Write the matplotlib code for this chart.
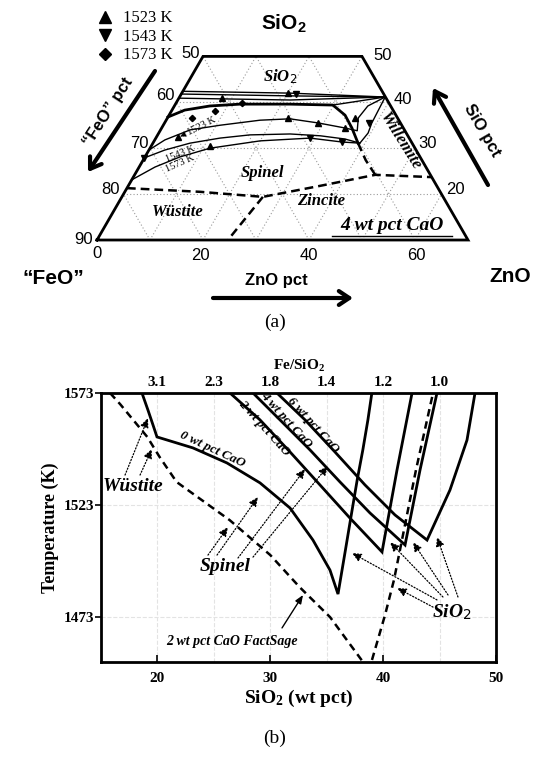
import numpy as np
import matplotlib.pyplot as plt
from matplotlib.lines import Line2D

W, H = 550, 759
SERIF = 'Liberation Serif'
SANS = 'Liberation Sans'

plt.rcParams['mathtext.fontset'] = 'custom'
plt.rcParams['mathtext.bf'] = 'Liberation Serif:bold'
plt.rcParams['mathtext.it'] = 'Liberation Serif:italic:bold'
plt.rcParams['mathtext.sf'] = 'Liberation Sans:bold'

# ---------------- (a) ternary section, every point is (ZnO wt pct, SiO2 wt pct) ----------------
frame_zno = [0, 70, 30, 0, 0]
frame_sio2 = [10, 10, 50, 50, 10]

# SiO2 saturation lines, they meet on the right edge
sat1_zno = [0, 20.4, 38.8]
sat1_sio2 = [42.4, 42.0, 41.15]
sat2_zno = [0, 20.7, 38.8]
sat2_sio2 = [41.8, 41.4, 41.15]
sat3_zno = [0, 21.2, 38.8]
sat3_sio2 = [40.9, 40.5, 41.15]

# thick liquidus boundary (SiO2 / spinel, then spinel / willemite)
thick_zno = [0, 2.4, 6.7, 12.2, 21.6, 29.8, 33.2, 35.9, 38.7]
thick_sio2 = [36.8, 38.3, 39.2, 39.6, 39.6, 39.4, 37.2, 34.4, 31.1]
link_zno = [29.8, 38.8]
link_sio2 = [39.4, 41.15]

# isotherms in the spinel field
iso1523_zno = [0, 1.9, 5.6, 10.7, 17.7, 23.2, 29.0, 34.6, 37.2, 36.0, 36.5, 38.8]
iso1523_sio2 = [29.6, 31.8, 34.0, 35.0, 36.1, 36.4, 35.5, 34.4, 33.8, 36.6, 39.2, 41.15]
iso1543_zno = [0, 3.0, 7.0, 12.1, 17.4, 24.9, 30.8, 35.8, 39.05, 39.5, 39.1, 38.8]
iso1543_sio2 = [27.9, 29.6, 31.1, 32.2, 32.9, 33.1, 32.7, 32.0, 31.1, 33.3, 35.5, 41.15]
iso1573_zno = [0, 3.0, 6.6, 11.3, 20.0, 29.1, 35.55, 39.05]
iso1573_sio2 = [23.1, 25.9, 28.1, 30.0, 31.6, 32.2, 31.35, 31.1]

# primary phase field boundaries (dashed)
wus_spl_zno = [0, 14.2, 26.6, 36.2, 45.4, 56.3]
wus_spl_sio2 = [21.3, 20.5, 19.4, 21.8, 24.2, 23.7]
wus_znc_zno = [26.6, 24.7]
wus_znc_sio2 = [19.4, 10.0]
spl_wil_zno = [45.4, 42.0, 38.7]
spl_wil_sio2 = [24.2, 27.4, 31.1]

# experimental points
exp1523_zno = [20.0, 8.1, 22.75, 28.95, 34.6, 35.4, 4.1, 11.1]
exp1523_sio2 = [42.0, 40.9, 36.6, 35.5, 34.4, 36.6, 32.4, 30.5]
exp1543_zno = [21.6, 29.1, 35.6, 38.6, 0]
exp1543_sio2 = [41.8, 32.2, 31.35, 35.5, 27.9]
exp1573_zno = [12.4, 8.2, 4.6]
exp1573_sio2 = [39.85, 38.1, 36.6]

# ---------------- (b) liquidus temperature vs SiO2 ----------------
caO0_x = [18.63, 19.16, 19.61, 19.96, 23.15, 26.16, 29.09, 31.75, 33.78, 35.29, 36.0,
          36.66, 37.1, 37.7, 38.2, 38.65, 39.0]
caO0_t = [1573, 1565.4, 1558.7, 1553.4, 1548.5, 1541.8, 1532.9, 1521.7, 1507.4, 1494.0, 1483.3,
          1503, 1516.3, 1534.2, 1547.6, 1561, 1573]
caO2_x = [26.43, 29.09, 31.75, 34.4, 37.06, 39.9, 41.23, 42.56]
caO2_t = [1573, 1561, 1546.7, 1532, 1517.2, 1502.1, 1538.7, 1573]
caO4_x = [28.47, 30.86, 33.52, 36.18, 38.83, 41.94, 43.27, 44.77]
caO4_t = [1573, 1561, 1547.6, 1533.3, 1519.5, 1505.2, 1538.7, 1573]
caO6_x = [30.59, 33.08, 35.73, 38.39, 41.05, 43.89, 45.92, 47.43, 48.14]
caO6_t = [1573, 1561, 1546.7, 1532, 1518.6, 1507.4, 1529.7, 1552, 1573]
fs_wus_x = [15.8, 16.7, 19.1, 20.2, 21.7, 26.4, 30.0, 32.6, 35.3, 38.1]
fs_wus_t = [1573, 1568, 1553.4, 1544.4, 1533.3, 1516.3, 1500.7, 1486.4, 1473, 1453.8]
fs_sio2_x = [39.01, 40.17, 40.96, 41.58, 42.91, 44.42]
fs_sio2_t = [1453.9, 1474, 1489.6, 1505.2, 1538.7, 1573]

x_ticks = [20, 30, 40, 50]
t_ticks = [1473, 1523, 1573]
fe_pos = [20, 25, 30, 35, 40, 45]
fe_labels = ['3.1', '2.3', '1.8', '1.4', '1.2', '1.0']


def tern(zno, sio2):
    zno = np.asarray(zno, float)
    sio2 = np.asarray(sio2, float)
    return zno + sio2 / 2, sio2 * np.sqrt(3) / 2


def fp(x, y):
    # pixel position in the 550x759 picture -> figure fraction
    return x / W, 1 - y / H


fig = plt.figure(figsize=(W / 100, H / 100), dpi=100)

# ================= panel (a) =================
ax = fig.add_axes([0, 1 - 290 / H, 1, 290 / H])
ax.set_xlim(-13.3, 90.47)
ax.set_ylim(-0.77, 53.94)
ax.axis('off')

# dotted grid, 10 pct steps
grid_kw = dict(color='#9a9a9a', lw=0.8, ls=(0, (1, 2)), zorder=1)
for s in [20, 30, 40]:
    ax.plot(*tern([0, 80 - s], [s, s]), **grid_kw)
for z in [10, 20, 30, 40, 50, 60]:
    ax.plot(*tern([z, z], [10, min(50, 80 - z)]), **grid_kw)
for f in [30, 40, 50, 60, 70, 80]:
    s_top = min(50, 100 - f)
    ax.plot(*tern([90 - f, 100 - f - s_top], [10, s_top]), **grid_kw)

ax.plot(*tern(frame_zno, frame_sio2), color='k', lw=2, zorder=5, solid_joinstyle='miter')

thin = dict(color='k', lw=1.0, zorder=3)
for zz, ss in [(sat1_zno, sat1_sio2), (sat2_zno, sat2_sio2), (sat3_zno, sat3_sio2),
               (link_zno, link_sio2), (iso1523_zno, iso1523_sio2),
               (iso1543_zno, iso1543_sio2), (iso1573_zno, iso1573_sio2)]:
    ax.plot(*tern(zz, ss), **thin)
ax.plot(*tern(thick_zno, thick_sio2), color='k', lw=2, zorder=3)

dash = dict(color='k', lw=1.8, ls=(0, (3.5, 2)), zorder=3)
for zz, ss in [(wus_spl_zno, wus_spl_sio2), (wus_znc_zno, wus_znc_sio2), (spl_wil_zno, spl_wil_sio2)]:
    ax.plot(*tern(zz, ss), **dash)

ax.plot(*tern(exp1523_zno, exp1523_sio2), ls='none', marker='^', ms=4, color='k', zorder=4)
ax.plot(*tern(exp1543_zno, exp1543_sio2), ls='none', marker='v', ms=4, color='k', zorder=4)
ax.plot(*tern(exp1573_zno, exp1573_sio2), ls='none', marker='D', ms=3.2, color='k', zorder=4)

# axis numbers
num = dict(fontfamily=SANS, fontsize=12, ha='center', va='center')
for lab, (x, y) in zip(['50', '60', '70', '80', '90'],
                       [(191, 53), (165, 96), (139, 144), (111, 189), (84, 239)]):
    fig.text(*fp(x, y), lab, **num)
for lab, (x, y) in zip(['0', '20', '40', '60'], [(97, 254), (200, 255), (309, 255), (416, 255)]):
    fig.text(*fp(x, y), lab, **num)
for lab, (x, y) in zip(['50', '40', '30', '20'], [(383, 55), (403, 100), (428, 144), (455, 189)]):
    fig.text(*fp(x, y), lab, **num)

big = dict(fontfamily=SANS, fontsize=15, fontweight='bold', ha='center', va='center')
fig.text(*fp(284, 23), 'SiO$_\\mathsf{2}$', **big)
fig.text(*fp(53, 278), '\u201cFeO\u201d', **big)
fig.text(*fp(510, 276), 'ZnO', **big)

mid = dict(fontfamily=SANS, fontsize=12, fontweight='bold', ha='center', va='center')
fig.text(*fp(276, 281), 'ZnO pct', **mid)
fig.text(*fp(108, 112), '\u201cFeO\u201d pct', rotation=57, **mid)
fig.text(*fp(482, 130), 'SiO pct', rotation=-60, **mid)

arr = dict(arrowstyle='->,head_length=0.75,head_width=0.5', lw=3, color='k', shrinkA=0, shrinkB=0)
ax.annotate('', xy=fp(353, 298), xytext=fp(213, 298), xycoords='figure fraction', arrowprops=arr)
ax.annotate('', xy=fp(88, 172), xytext=fp(155, 71), xycoords='figure fraction', arrowprops=arr)
ax.annotate('', xy=fp(433, 88), xytext=fp(488, 185), xycoords='figure fraction', arrowprops=arr)

phase = dict(fontfamily=SERIF, fontsize=12, fontweight='bold', style='italic', ha='center', va='center')
fig.text(*fp(280, 77), 'SiO$_\\mathit{2}$', **phase)
fig.text(*fp(262, 173), 'Spinel', **phase)
fig.text(*fp(178, 212), 'W\u00fcstite', **phase)
fig.text(*fp(321, 201), 'Zincite', **phase)
fig.text(*fp(400, 141), 'Willemite', rotation=-58, **phase)
fig.text(*fp(392, 226), '4 wt pct CaO', fontfamily=SERIF, fontsize=14, fontweight='bold',
         style='italic', ha='center', va='center')
ax.plot([0.604, 0.822], [1 - 236 / H, 1 - 236 / H], transform=fig.transFigure, color='k', lw=1)

small = dict(fontfamily=SERIF, fontsize=7.5, ha='center', va='center')
fig.text(*fp(197, 128), '\u25c41523 K', rotation=27, **small)
fig.text(*fp(180, 154), '1543 K', rotation=22, **small)
fig.text(*fp(180, 163), '1573 K', rotation=24, **small)

handles = [Line2D([], [], ls='none', marker=m, ms=s, color='k') for m, s in [('^', 8), ('v', 8), ('D', 6)]]
fig.legend(handles, ['1523 K', '1543 K', '1573 K'], loc='upper left', bbox_to_anchor=fp(88, 2),
           frameon=False, prop={'family': SERIF, 'size': 12}, handlelength=1.0,
           handletextpad=0.6, labelspacing=0.15, borderpad=0)

fig.text(*fp(275, 322), '(a)', fontfamily=SERIF, fontsize=14, ha='center', va='center')

# ================= panel (b) =================
bx = fig.add_axes([101 / W, 1 - 662 / H, 395 / W, 269 / H])
bx.set_xlim(15, 50)
bx.set_ylim(1453, 1573)

for x in fe_pos:
    bx.axvline(x, color='#e3e3e3', lw=0.8, ls='--', zorder=0)
for t in t_ticks[:2]:
    bx.axhline(t, color='#e3e3e3', lw=0.8, ls='--', zorder=0)

solid = dict(color='k', lw=2, solid_joinstyle='miter')
for xs, ts in [(caO0_x, caO0_t), (caO2_x, caO2_t), (caO4_x, caO4_t), (caO6_x, caO6_t)]:
    bx.plot(xs, ts, **solid)
bdash = dict(color='k', lw=1.8, ls=(0, (3, 2)))
bx.plot(fs_wus_x, fs_wus_t, **bdash)
bx.plot(fs_sio2_x, fs_sio2_t, **bdash)

for sp in bx.spines.values():
    sp.set_linewidth(2)
bx.set_xticks(x_ticks)
bx.set_yticks(t_ticks)
bx.tick_params(axis='x', direction='in', length=5, width=1.2, pad=7)
bx.tick_params(axis='y', direction='out', length=4, width=1.2, pad=1)
for lab in bx.get_xticklabels() + bx.get_yticklabels():
    lab.set_fontfamily(SERIF)
    lab.set_fontweight('bold')
    lab.set_fontsize(11)

top = bx.secondary_xaxis('top')
top.set_xticks(fe_pos, labels=fe_labels)
top.tick_params(length=0, pad=3)
for lab in top.get_xticklabels():
    lab.set_fontfamily(SERIF)
    lab.set_fontweight('bold')
    lab.set_fontsize(11)
top.set_xlabel('Fe/SiO$_\\mathbf{2}$', fontfamily=SERIF, fontweight='bold', fontsize=11, labelpad=4)
bx.set_xlabel('SiO$_\\mathbf{2}$ (wt pct)', fontfamily=SERIF, fontweight='bold', fontsize=14, labelpad=2)
bx.set_ylabel('Temperature (K)', fontfamily=SERIF, fontweight='bold', fontsize=13, labelpad=3)

lab_kw = dict(fontfamily=SERIF, fontweight='bold', style='italic', ha='center', va='center')
bx.text(24.9, 1547.6, '0 wt pct CaO', fontsize=9.5, rotation=-25, **lab_kw)
bx.text(29.5, 1557.4, '2 wt pct CaO', fontsize=9.5, rotation=-48, **lab_kw)
bx.text(31.4, 1561.0, '4 wt pct CaO', fontsize=9.5, rotation=-48, **lab_kw)
bx.text(33.8, 1558.7, '6 wt pct CaO', fontsize=9.5, rotation=-48, **lab_kw)
bx.text(17.84, 1531.1, 'W\u00fcstite', fontsize=14, **lab_kw)
bx.text(25.99, 1495.4, 'Spinel', fontsize=14, **lab_kw)
bx.text(46.1, 1475.3, 'SiO$_\\mathit{2}$', fontsize=14, **lab_kw)
bx.text(26.6, 1462.0, '2 wt pct CaO FactSage', fontsize=10, **lab_kw)

dot = dict(arrowstyle='-|>,head_length=0.55,head_width=0.25', lw=0.9, ls=(0, (1, 1.5)), color='k',
           shrinkA=0, shrinkB=0)
pointers = [((17.13, 1536.4), (19.16, 1561.8)), ((18.46, 1536.4), (19.5, 1548.0)),
            ((24.48, 1500.7), (26.25, 1513.2)), ((25.28, 1500.7), (28.91, 1526.6)),
            ((27.14, 1499.4), (33.08, 1539.1)), ((28.47, 1499.8), (35.11, 1540.4)),
            ((44.42, 1477.5), (41.23, 1486.0)), ((44.77, 1480.7), (37.24, 1501.6)),
            ((45.3, 1482.0), (40.6, 1506.5)), ((45.75, 1482.9), (42.64, 1506.5)),
            ((46.63, 1482.0), (44.77, 1508.8))]
for start, end in pointers:
    bx.annotate('', xy=end, xytext=start, arrowprops=dot)
bx.annotate('', xy=(32.9, 1482.9), xytext=(31.04, 1468.2),
            arrowprops=dict(arrowstyle='-|>,head_length=0.5,head_width=0.2', lw=1, color='k',
                            shrinkA=0, shrinkB=0))

fig.text(*fp(275, 738), '(b)', fontfamily=SERIF, fontsize=14, ha='center', va='center')

fig.savefig('out.png', dpi=100)
